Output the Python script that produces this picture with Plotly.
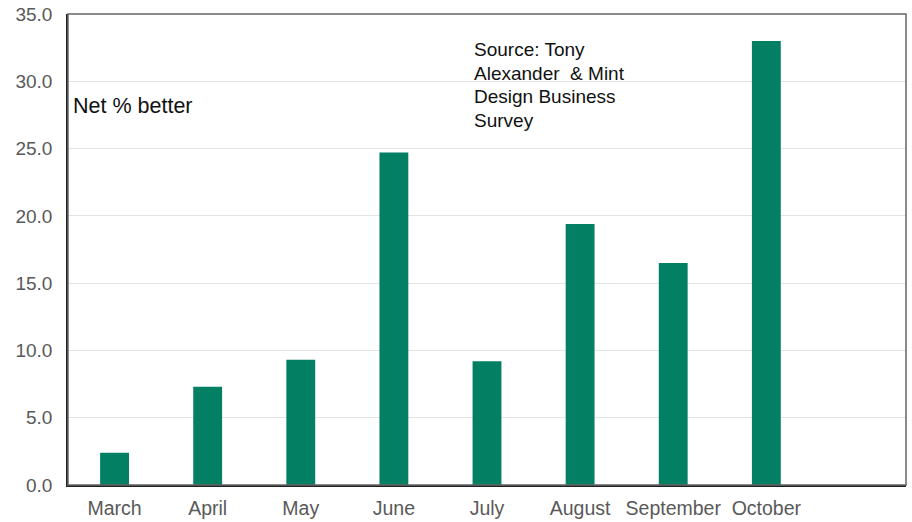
import plotly.graph_objects as go

# Monthly survey results: net percentage of respondents reporting better conditions
months = ["March", "April", "May", "June", "July", "August", "September", "October"]
net_better = [2.4, 7.3, 9.3, 24.7, 9.2, 19.4, 16.5, 33.0]
y_ticks = [0, 5, 10, 15, 20, 25, 30, 35]
y_tick_labels = ["0.0", "5.0", "10.0", "15.0", "20.0", "25.0", "30.0", "35.0"]
source_lines = ["Source: Tony", "Alexander  & Mint", "Design Business", "Survey"]

BAR_COLOR = "#037F64"
FONT = "Liberation Sans, Arial, sans-serif"

W, H = 912, 522
M_L, M_R, M_T, M_B = 68, 6, 14, 37
PLOT_W, PLOT_H = W - M_L - M_R, H - M_T - M_B

fig = go.Figure(
    go.Bar(
        x=months,
        y=net_better,
        marker=dict(color=BAR_COLOR, line=dict(width=0)),
        width=0.31,
    )
)

fig.update_layout(
    width=W,
    height=H,
    margin=dict(l=M_L, r=M_R, t=M_T, b=M_B),
    paper_bgcolor="white",
    plot_bgcolor="white",
    showlegend=False,
    font=dict(family=FONT, size=19, color="#595959"),
)

fig.update_xaxes(
    type="category",
    categoryorder="array",
    categoryarray=months,
    range=[-0.5, 8.5],
    automargin=False,
    showgrid=False,
    showline=True,
    linecolor="#222222",
    linewidth=1.5,
    ticks="",
    tickfont=dict(family=FONT, size=19.5, color="#595959"),
    ticklabelstandoff=5,
)

fig.update_yaxes(
    range=[0, 35],
    tickvals=y_ticks,
    ticktext=y_tick_labels,
    automargin=False,
    showgrid=True,
    gridcolor="#e3e3e3",
    gridwidth=1,
    showline=True,
    linecolor="#222222",
    linewidth=1.5,
    ticks="",
    zeroline=False,
    tickfont=dict(family=FONT, size=19, color="#595959"),
    ticklabelstandoff=10,
)

# Frame around the plotting area (top and right edges)
fig.add_shape(
    type="rect", xref="paper", yref="paper", x0=0, y0=0, x1=1, y1=1,
    line=dict(color="#666666", width=1.5), layer="above",
)

fig.add_annotation(
    xref="paper", yref="y", x=0.004, y=28.2, xanchor="left", yanchor="middle",
    text="Net % better", showarrow=False,
    font=dict(family=FONT, size=21.5, color="#111111"),
)

# Source note, one line at a time for tight line spacing
for i, line in enumerate(source_lines):
    y_px = 50 + i * 23.4
    fig.add_annotation(
        xref="paper", yref="paper",
        x=(472 - M_L) / PLOT_W, y=1 - (y_px - M_T) / PLOT_H,
        xanchor="left", yanchor="middle", align="left",
        text=line, showarrow=False,
        font=dict(family=FONT, size=19, color="#111111"),
    )

fig.write_html("out.html")
